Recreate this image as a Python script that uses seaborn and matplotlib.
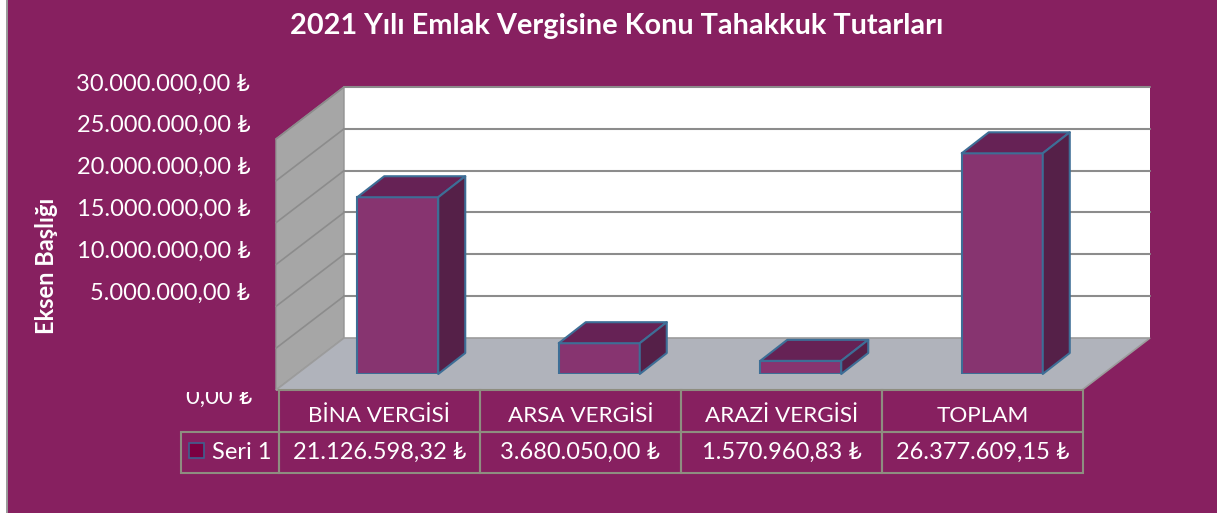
import matplotlib
matplotlib.use("Agg")
import matplotlib.pyplot as plt
from matplotlib.patches import Polygon, Rectangle
from matplotlib.transforms import Bbox
import seaborn as sns
import pandas as pd
import numpy as np

categories = ["BİNA VERGİSİ", "ARSA VERGİSİ", "ARAZİ VERGİSİ", "TOPLAM"]
values = [21126598.32, 3680050.00, 1570960.83, 26377609.15]
value_labels = ["21.126.598,32 ₺", "3.680.050,00 ₺", "1.570.960,83 ₺", "26.377.609,15 ₺"]
axis_ticks = [5000000, 10000000, 15000000, 20000000, 25000000, 30000000]
axis_labels = ["5.000.000,00 ₺", "10.000.000,00 ₺", "15.000.000,00 ₺",
               "20.000.000,00 ₺", "25.000.000,00 ₺", "30.000.000,00 ₺"]
zero_label = "0,00 ₺"
series_name = "Seri 1"
title = "2021 Yılı Emlak Vergisine Konu Tahakkuk Tutarları"
y_title = "Eksen Başlığı"

W, H = 1217, 513
BG = "#872060"
FRONT = "#873470"
TOP = "#662255"
SIDE = "#552048"
EDGE = "#3D6E96"
WALL = "#A6A6A6"
FLOOR = "#B0B3BB"
GRID = "#8C8C8C"
TABLE = "#8E8E80"

sns.set_theme(style="white")
plt.rcParams["font.family"] = ["Lato", "Carlito", "DejaVu Sans"]
plt.rcParams["axes.unicode_minus"] = False

fig = plt.figure(figsize=(W / 100, H / 100), dpi=100, facecolor="white")


def box(x0, y_top, x1, y_bottom):
    return [x0 / W, 1 - y_bottom / H, (x1 - x0) / W, (y_bottom - y_top) / H]


# page background with its grey left edge
fig.add_artist(Rectangle((7 / W, 0), 1 - 7 / W, 1, transform=fig.transFigure,
                         facecolor=BG, edgecolor="none", zorder=-5))
fig.add_artist(plt.Line2D([7 / W, 7 / W], [0, 1], color="#9A9A9A", lw=1.4, zorder=-4))

# the axes is the plane of the bars' front faces
ax = fig.add_axes(box(297, 123, 1103, 374))
df = pd.DataFrame({"kategori": categories, "tutar": values})
sns.barplot(data=df, x="kategori", y="tutar", ax=ax, color=FRONT, saturation=1,
            width=0.402, edgecolor=EDGE, linewidth=1.5, zorder=3)
ax.set_xlim(-0.5, 3.5)
ax.set_ylim(0, 30000000)
ax.patch.set_visible(False)
for s in ax.spines.values():
    s.set_visible(False)
ax.set(xlabel="", ylabel="", xticks=[], yticks=[])


def disp(x, y, dx=0, dy=0):
    p = ax.transData.transform((x, y))
    return (p[0] + dx, p[1] + dy)


def poly(points, **kw):
    ax.add_patch(Polygon(points, closed=True, transform=None, clip_on=False, **kw))


def line(a, b, **kw):
    ax.add_line(plt.Line2D([a[0], b[0]], [a[1], b[1]], transform=None, clip_on=False, **kw))


# 3D room: offsets in pixels from the bars' plane
FX, FY = -21, -16   # front of the floor
BX, BY = 47, 36     # back wall
DX, DY = 27, 21     # depth of a bar
xl, xr = -0.5, 3.5
ymax = 30000000
bars = list(ax.patches)
poly([disp(xl, 0, BX, BY), disp(xr, 0, BX, BY), disp(xr, ymax, BX, BY), disp(xl, ymax, BX, BY)],
     facecolor="white", edgecolor="none", zorder=0.5)
poly([disp(xl, 0, FX, FY), disp(xl, 0, BX, BY), disp(xl, ymax, BX, BY), disp(xl, ymax, FX, FY)],
     facecolor=WALL, edgecolor="#939393", linewidth=1, zorder=0.6)
poly([disp(xl, 0, FX, FY), disp(xr, 0, FX, FY), disp(xr, 0, BX, BY), disp(xl, 0, BX, BY)],
     facecolor=FLOOR, edgecolor="#9C9C9C", linewidth=1.2, zorder=0.7)
for v in axis_ticks:
    line(disp(xl, v, BX, BY), disp(xr, v, BX, BY), color=GRID, lw=1.5, zorder=0.65)
    line(disp(xl, v, FX, FY), disp(xl, v, BX, BY), color=GRID, lw=1.2, zorder=0.65)

# top and side faces of each bar
for patch in bars:
    x0, x1 = patch.get_x(), patch.get_x() + patch.get_width()
    h = patch.get_height()
    poly([disp(x0, h), disp(x1, h), disp(x1, h, DX, DY), disp(x0, h, DX, DY)],
         facecolor=TOP, edgecolor=EDGE, linewidth=1.5, zorder=4, joinstyle="round")
    poly([disp(x1, 0), disp(x1, h), disp(x1, h, DX, DY), disp(x1, 0, DX, DY)],
         facecolor=SIDE, edgecolor=EDGE, linewidth=1.5, zorder=4, joinstyle="round")

# value axis labels, on their own scale
ax_lab = fig.add_axes(box(256, 82, 270, 333))
ax_lab.set_ylim(0, 30000000)
ax_lab.patch.set_visible(False)
for s in ax_lab.spines.values():
    s.set_visible(False)
ax_lab.set_xticks([])
ax_lab.set_yticks(axis_ticks)
ax_lab.set_yticklabels(axis_labels, fontsize=17, color="white")
ax_lab.tick_params(axis="y", length=0, pad=4)

# zero label, cut at the top by the floor like the original
t0 = fig.text(252 / W, 1 - 397 / H, zero_label, ha="right", va="center", fontsize=17, color="white")
t0.set_clip_box(Bbox([[150, 0], [300, H - 392]]))
t0.set_clip_on(True)

fig.text(46 / W, 1 - 266 / H, y_title, rotation=90, ha="center", va="center",
         fontsize=17, fontweight="bold", color="white")
fig.text(617 / W, 1 - 26 / H, title, ha="center", va="center",
         fontsize=20.8, fontweight="bold", color="white")

# data table: values under the categories
ax_tab = fig.add_axes(box(279, 390, 1083, 473))
ax_tab.axis("off")
tab = ax_tab.table(cellText=[value_labels], colLabels=[""] * len(categories),
                   cellLoc="center", bbox=[0, 0, 1, 1])
# category names sit a little low in their row
for i, name in enumerate(categories):
    ax_tab.text((i + 0.5) / len(categories), 1 - (416 - 390) / 83, name, ha="center", va="center",
                transform=ax_tab.transAxes, fontsize=16.2, color="white")
# series name cell, left of the values
ax_ser = fig.add_axes(box(181, 432, 279, 473))
ax_ser.axis("off")
tab_ser = ax_ser.table(cellText=[[series_name]], cellLoc="right", bbox=[0, 0, 1, 1])
for t in (tab, tab_ser):
    t.auto_set_font_size(False)
    for (r, c), cell in t.get_celld().items():
        cell.set_facecolor("none")
        cell.set_edgecolor(TABLE)
        cell.set_linewidth(1.5)
        cell.get_text().set_color("white")
        cell.get_text().set_fontsize(17)
        if t is tab_ser:
            cell.PAD = 0.08
fig.add_artist(Rectangle((189 / W, 1 - 458 / H), 15 / W, 15 / H, transform=fig.transFigure,
                         facecolor="#7B0041", edgecolor="#3F5F8F", linewidth=1.2, zorder=10))

fig.savefig("out.png", dpi=100, facecolor=fig.get_facecolor())
